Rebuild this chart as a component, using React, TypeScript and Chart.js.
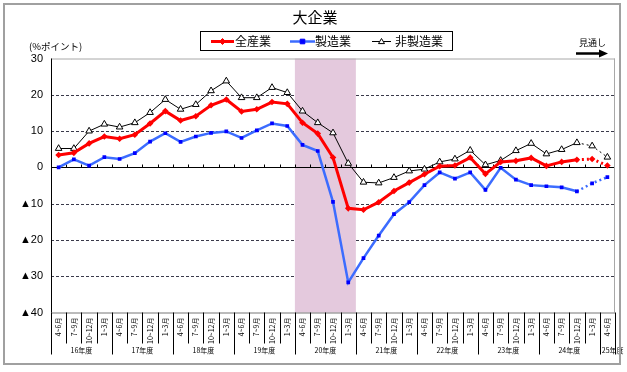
import React, { useEffect, useRef } from "react";
import { Chart, registerables } from "chart.js";
Chart.register(...registerables);

const chartTitle = "大企業";
const yUnitLabel = "(%ポイント)";
const forecastLabel = "見通し";
const fiscalYears = ["16年度", "17年度", "18年度", "19年度", "20年度", "21年度", "22年度", "23年度", "24年度", "25年度"];
const quarterLabels = ["4~6月", "7~9月", "10~12月", "1~3月"];
const shadedYear = "20年度";
const forecastStartIndex = 35;
const seriesNames = ["全産業", "製造業", "非製造業"];

const allIndustries = [
  3.4, 4.0, 6.6, 8.5, 7.9, 9.0, 12.1, 15.5, 12.9, 14.1, 17.1, 18.7, 15.4, 16.0, 18.0, 17.5,
  12.3, 9.3, 2.7, -11.3, -11.7, -9.6, -6.5, -4.2, -1.9, 0.3, 0.5, 2.7, -1.8, 1.5, 1.8, 2.6,
  0.4, 1.5, 2.1, 2.3, 0.5,
];
const manufacturing = [
  0.0, 2.2, 0.5, 2.8, 2.3, 3.9, 7.1, 9.4, 7.0, 8.5, 9.5, 9.9, 8.1, 10.2, 12.1, 11.4,
  6.2, 4.5, -9.5, -31.7, -25.0, -18.8, -12.9, -9.6, -4.9, -1.4, -3.1, -1.4, -6.2, -0.1, -3.4, -4.9,
  -5.2, -5.5, -6.6, -4.4, -2.7,
];
const nonManufacturing = [
  5.2, 5.2, 10.0, 11.9, 11.1, 12.3, 15.1, 18.7, 16.0, 17.3, 21.1, 23.8, 19.2, 19.2, 22.0, 20.6,
  15.5, 12.3, 9.5, 1.1, -4.1, -4.3, -2.8, -1.0, -0.5, 1.5, 2.3, 4.7, 0.7, 1.9, 4.6, 6.6,
  3.7, 4.9, 6.8, 5.9, 2.8,
];
const yMin = -40;
const yMax = 30;
const yStep = 10;

const categories: string[] = [];
const categoryYear: number[] = [];
fiscalYears.forEach((_, yi) =>
  quarterLabels.forEach((q) => {
    if (categories.length < allIndustries.length) {
      categories.push(q);
      categoryYear.push(yi);
    }
  })
);

const JP = '"Noto Sans CJK JP", "Noto Sans", sans-serif';
const W = 627;
const H = 372;

const RED = "#ff0000";
const BLUE_LINE = "#3c6cff";
const BLUE_PT = "#0000ff";

function marker(ctx: CanvasRenderingContext2D, style: string, x: number, y: number, r: number, fill: string, stroke: string) {
  ctx.save();
  ctx.beginPath();
  if (style === "rectRot") {
    ctx.moveTo(x, y - r); ctx.lineTo(x + r, y); ctx.lineTo(x, y + r); ctx.lineTo(x - r, y); ctx.closePath();
  } else if (style === "rect") {
    ctx.rect(x - r, y - r, 2 * r, 2 * r);
  } else {
    ctx.moveTo(x, y - r); ctx.lineTo(x + r, y + r * 0.7); ctx.lineTo(x - r, y + r * 0.7); ctx.closePath();
  }
  ctx.fillStyle = fill; ctx.fill();
  ctx.strokeStyle = stroke; ctx.lineWidth = 1; ctx.stroke();
  ctx.restore();
}

const decor = {
  id: "decor",
  beforeDatasetsDraw(chart: any) {
    const { ctx, chartArea: a, scales } = chart;
    const x = scales.x, y = scales.y;
    const step = x.getPixelForValue(1) - x.getPixelForValue(0);
    ctx.save();
    // dashed grid
    ctx.strokeStyle = "#3a3a4a"; ctx.lineWidth = 1; ctx.setLineDash([3, 2]);
    y.ticks.forEach((t: any) => {
      if (t.value === 0 || t.value === yMax || t.value === yMin) return;
      const py = Math.round(y.getPixelForValue(t.value)) + 0.5;
      ctx.beginPath(); ctx.moveTo(a.left, py); ctx.lineTo(a.right, py); ctx.stroke();
    });
    ctx.setLineDash([]);
    // shaded band
    const yi = fiscalYears.indexOf(shadedYear);
    const idx = categoryYear.map((v, i) => (v === yi ? i : -1)).filter((i) => i >= 0);
    const bx0 = x.getPixelForValue(idx[0]) - step / 2;
    const bx1 = x.getPixelForValue(idx[idx.length - 1]) + step / 2;
    ctx.fillStyle = "#e4c9dd";
    ctx.fillRect(bx0, a.top, bx1 - bx0, a.bottom - a.top);
    // zero line
    const y0 = Math.round(y.getPixelForValue(0)) + 0.5;
    ctx.strokeStyle = "#000"; ctx.lineWidth = 1;
    ctx.beginPath(); ctx.moveTo(a.left, y0); ctx.lineTo(a.right, y0); ctx.stroke();
    for (let i = 1; i < categories.length; i++) {
      const bx = Math.round(x.getPixelForValue(i) - step / 2) + 0.5;
      ctx.beginPath(); ctx.moveTo(bx, y0); ctx.lineTo(bx, y0 - 3); ctx.stroke();
    }
    // plot frame
    ctx.strokeStyle = "#a8a8a8";
    ctx.beginPath();
    ctx.moveTo(a.left, a.top + 0.5); ctx.lineTo(a.right, a.top + 0.5);
    ctx.moveTo(a.right - 0.5, a.top); ctx.lineTo(a.right - 0.5, a.bottom);
    ctx.stroke();
    ctx.strokeStyle = "#777";
    ctx.beginPath(); ctx.moveTo(a.left, a.bottom + 0.5); ctx.lineTo(a.right, a.bottom + 0.5); ctx.stroke();
    ctx.strokeStyle = "#000";
    ctx.beginPath(); ctx.moveTo(a.left + 0.5, a.top); ctx.lineTo(a.left + 0.5, a.bottom); ctx.stroke();
    ctx.restore();
  },
  afterDraw(chart: any) {
    const { ctx, chartArea: a, scales } = chart;
    const x = scales.x;
    const step = x.getPixelForValue(1) - x.getPixelForValue(0);
    ctx.save();
    // separators in the label area
    ctx.strokeStyle = "#000"; ctx.lineWidth = 1;
    for (let i = 0; i <= categories.length; i++) {
      const bx = Math.round(x.getPixelForValue(Math.min(i, categories.length - 1)) + (i < categories.length ? -step / 2 : step / 2)) + 0.5;
      const isYear = i === 0 || i === categories.length || categoryYear[i] !== categoryYear[i - 1];
      ctx.beginPath(); ctx.moveTo(bx, a.bottom); ctx.lineTo(bx, isYear ? a.bottom + 42 : a.bottom + 31); ctx.stroke();
    }
    // year labels
    ctx.fillStyle = "#000"; ctx.font = `7px ${JP}`; ctx.textBaseline = "middle";
    fiscalYears.forEach((fy, yi) => {
      const idx = categoryYear.map((v, i) => (v === yi ? i : -1)).filter((i) => i >= 0);
      if (!idx.length) return;
      if (idx.length < quarterLabels.length) {
        ctx.textAlign = "left";
        ctx.fillText(fy, x.getPixelForValue(idx[0]) - step / 2 + 2, a.bottom + 37.5);
      } else {
        ctx.textAlign = "center";
        const cx = (x.getPixelForValue(idx[0]) + x.getPixelForValue(idx[idx.length - 1])) / 2;
        ctx.fillText(fy, cx, a.bottom + 37.5);
      }
    });
    // title
    ctx.textAlign = "center"; ctx.font = `15px ${JP}`;
    ctx.fillText(chartTitle, 315, 17.5);
    // legend
    ctx.strokeStyle = "#000"; ctx.lineWidth = 1;
    ctx.strokeRect(200.5, 31.5, 252, 19);
    const ly = 41.5;
    const items = [
      { name: seriesNames[0], x0: 211, x1: 234, tx: 235, color: RED, w: 3, style: "rectRot", fill: RED, stroke: RED, r: 3 },
      { name: seriesNames[1], x0: 290, x1: 315, tx: 315, color: BLUE_LINE, w: 2.5, style: "rect", fill: BLUE_PT, stroke: BLUE_PT, r: 2.3 },
      { name: seriesNames[2], x0: 372, x1: 391, tx: 395, color: "#000", w: 1, style: "triangle", fill: "#fff", stroke: "#000", r: 3 },
    ];
    items.forEach((it) => {
      ctx.strokeStyle = it.color; ctx.lineWidth = it.w;
      ctx.beginPath(); ctx.moveTo(it.x0, ly); ctx.lineTo(it.x1, ly); ctx.stroke();
      marker(ctx, it.style, (it.x0 + it.x1) / 2, ly, it.r, it.fill, it.stroke);
      ctx.fillStyle = "#000"; ctx.font = `12px ${JP}`; ctx.textAlign = "left"; ctx.textBaseline = "middle";
      ctx.fillText(it.name, it.tx, ly);
    });
    // unit label
    ctx.font = `9.5px ${JP}`; ctx.textAlign = "left";
    ctx.fillText(yUnitLabel, 29, 46);
    // forecast label + arrow
    ctx.font = `9px ${JP}`; ctx.textAlign = "left";
    ctx.fillText(forecastLabel, 579, 42.5);
    ctx.strokeStyle = "#000"; ctx.lineWidth = 2.5;
    ctx.beginPath(); ctx.moveTo(576, 53.5); ctx.lineTo(601, 53.5); ctx.stroke();
    ctx.fillStyle = "#000";
    ctx.beginPath(); ctx.moveTo(608, 53.5); ctx.lineTo(599, 49.5); ctx.lineTo(599, 57.5); ctx.closePath(); ctx.fill();
    // outer frame
    ctx.strokeStyle = "#a0a0a0"; ctx.lineWidth = 2;
    ctx.strokeRect(4, 4, 616, 360);
    ctx.restore();
  },
};

export default function App() {
  const ref = useRef<HTMLCanvasElement | null>(null);
  useEffect(() => {
    if (!ref.current) return;
    const dash = (c: any) => (c.p0DataIndex >= forecastStartIndex - 1 ? [2, 3] : undefined);
    const chart = new Chart(ref.current, {
      type: "line",
      data: {
        labels: categories,
        datasets: [
          {
            label: seriesNames[2], data: nonManufacturing, borderColor: "#000", borderWidth: 1,
            pointStyle: "triangle", pointRadius: 3.8, pointBackgroundColor: "#fff", pointBorderColor: "#000",
            pointBorderWidth: 1, order: 3, segment: { borderDash: dash },
          },
          {
            label: seriesNames[1], data: manufacturing, borderColor: BLUE_LINE, borderWidth: 2.5,
            pointStyle: "rect", pointRadius: 2.6, pointBackgroundColor: BLUE_PT, pointBorderColor: BLUE_PT,
            pointBorderWidth: 0, order: 2, segment: { borderDash: dash },
          },
          {
            label: seriesNames[0], data: allIndustries, borderColor: RED, borderWidth: 3,
            pointStyle: "rectRot", pointRadius: 3.3, pointBackgroundColor: RED, pointBorderColor: RED,
            pointBorderWidth: 0, order: 1, segment: { borderDash: dash },
          },
        ],
      },
      options: {
        responsive: false,
        animation: false,
        devicePixelRatio: 1,
        layout: { padding: { left: 0, right: 12, top: 58.5, bottom: 0 } },
        plugins: { legend: { display: false }, title: { display: false }, tooltip: { enabled: false } },
        scales: {
          x: {
            type: "category",
            offset: true,
            grid: { display: false, drawTicks: false },
            border: { display: false },
            ticks: {
              autoSkip: false, maxRotation: 90, minRotation: 90, padding: 5, color: "#000",
              font: { size: 7, family: JP },
            },
            afterFit: (s: any) => { s.height = 59.5; },
          },
          y: {
            min: yMin, max: yMax,
            grid: { display: false, drawTicks: false },
            border: { display: false },
            ticks: {
              stepSize: yStep, padding: 8, color: "#000",
              font: { size: 11, family: '"Liberation Sans", Arial, sans-serif' },
              callback: (v: any) => (Number(v) < 0 ? "▲" + Math.abs(Number(v)) : String(v)),
            },
            afterFit: (s: any) => { s.width = 51; },
          },
        },
      } as any,
      plugins: [decor],
    });
    return () => chart.destroy();
  }, []);
  return (
    <div style={{ position: "fixed", left: 0, top: 0, width: W, height: H, background: "#fff" }}>
      <canvas ref={ref} width={W} height={H} style={{ display: "block" }} />
    </div>
  );
}
